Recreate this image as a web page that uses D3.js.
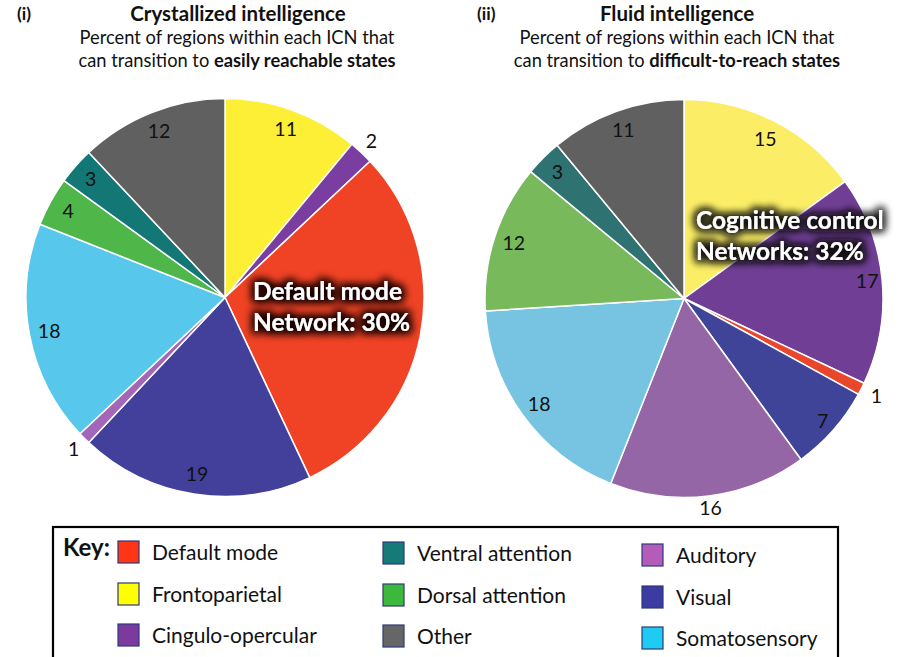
<!DOCTYPE html>
<html><head><meta charset="utf-8">
<script src="https://cdn.jsdelivr.net/npm/d3@7"></script>
<style>body{margin:0;background:#fff}svg{display:block}</style>
</head><body>
<svg id="chart" width="900" height="657"></svg>
<script>
// ---------- data ----------
const categories = ["Frontoparietal","Cingulo-opercular","Default mode","Visual","Auditory","Somatosensory","Dorsal attention","Ventral attention","Other"];
const crystallizedValues = [11,2,30,19,1,18,4,3,12];
const fluidValues = [15,17,1,7,16,18,12,3,11];
const legendColumns = [
  ["Default mode","Frontoparietal","Cingulo-opercular"],
  ["Ventral attention","Dorsal attention","Other"],
  ["Auditory","Visual","Somatosensory"]
];
const panelTags = ["(i)","(ii)"];
const panelTitles = ["Crystallized intelligence","Fluid intelligence"];
const subtitleLine1 = "Percent of regions within each ICN that";
const subtitlePrefix = "can transition to ";
const subtitleBold = ["easily reachable states","difficult-to-reach states"];
const calloutLines = [["Default mode","Network: 30%"],["Cognitive control","Networks: 32%"]];

// ---------- styles ----------
const crystallizedColors = ["#fdef35","#7a3ea0","#f04224","#42409a","#a466b9","#57c8eb","#4fb64a","#137775","#606060"];
const fluidColors = ["#fbee66","#703f95","#e8472b","#3f4499","#9566a6","#76c4e2","#78b95b","#2f7272","#606060"];
const legendColors = {"Default mode":"#ff3515","Frontoparietal":"#ffff00","Cingulo-opercular":"#7d3a9e",
  "Ventral attention":"#167a78","Dorsal attention":"#3cb93c","Other":"#666666",
  "Auditory":"#b55cba","Visual":"#3b3ba2","Somatosensory":"#1ecbf2"};
const FONT = "Lato, 'Open Sans', sans-serif";

const svg = d3.select("#chart");
const defs = svg.append("defs");
[["glowL","#1a0000",0.9],["glowR","#111",0.85]].forEach(([id,col,op])=>{
  const f = defs.append("filter").attr("id",id).attr("x","-20%").attr("y","-50%").attr("width","140%").attr("height","200%");
  f.append("feMorphology").attr("in","SourceAlpha").attr("operator","dilate").attr("radius",2).attr("result","d");
  f.append("feGaussianBlur").attr("in","d").attr("stdDeviation",4).attr("result","b");
  f.append("feFlood").attr("flood-color",col).attr("flood-opacity",op);
  f.append("feComposite").attr("in2","b").attr("operator","in").attr("result","s");
  const m = f.append("feMerge");
  m.append("feMergeNode").attr("in","s");
  m.append("feMergeNode").attr("in","s");
  m.append("feMergeNode").attr("in","SourceGraphic");
});

const R = 199, labelR = 179, outsideR = 214;
const panels = [
  {cx:225, cy:297.5, values:crystallizedValues, colors:crystallizedColors,
   hide:["Default mode"], labelRadius:{"Cingulo-opercular":outsideR,"Auditory":outsideR},
   titleX:238, tagX:17, subX:237, callout:{x:253,y:300,gap:31,filter:"url(#glowL)"}},
  {cx:684, cy:298.5, values:fluidValues, colors:fluidColors,
   hide:[], labelRadius:{"Default mode":216,"Auditory":211,"Cingulo-opercular":184,"Visual":185},
   titleX:677, tagX:477, subX:677, callout:{x:696,y:229,gap:31,filter:"url(#glowR)"}}
];

const pie = d3.pie().sort(null).value(d=>d.v);
const arc = d3.arc().innerRadius(0).outerRadius(R);

panels.forEach((p,i)=>{
  const data = categories.map((c,k)=>({c, v:p.values[k], color:p.colors[k]}));
  const g = svg.append("g").attr("transform",`translate(${p.cx},${p.cy})`);
  const arcs = pie(data);
  g.selectAll("path").data(arcs).join("path")
    .attr("d",arc).attr("fill",d=>d.data.color)
    .attr("stroke","#fff").attr("stroke-width",1.5).attr("stroke-linejoin","round");
  g.selectAll("text.lab").data(arcs.filter(d=>!p.hide.includes(d.data.c))).join("text")
    .attr("class","lab")
    .attr("transform",d=>{
      const r = p.labelRadius[d.data.c] || labelR;
      const a = (d.startAngle+d.endAngle)/2;
      return `translate(${r*Math.sin(a)},${-r*Math.cos(a)})`;
    })
    .attr("text-anchor","middle").attr("dy","0.35em")
    .attr("font-family",FONT).attr("font-size",19.5).attr("fill","#111")
    .text(d=>d.data.v);

  // callout
  const co = svg.append("g").attr("filter",p.callout.filter);
  calloutLines[i].forEach((t,k)=>{
    co.append("text").attr("x",p.callout.x).attr("y",p.callout.y+k*p.callout.gap)
      .attr("font-family",FONT).attr("font-weight","bold").attr("font-size",24.5)
      .attr("fill","#fff").text(t);
  });

  // titles
  svg.append("text").attr("x",p.tagX).attr("y",20).attr("font-family",FONT)
    .attr("font-weight","bold").attr("font-size",17.5).attr("fill","#111").text(panelTags[i]);
  svg.append("text").attr("x",p.titleX).attr("y",21).attr("text-anchor","middle").attr("font-family",FONT)
    .attr("font-weight","bold").attr("font-size",20.5).attr("fill","#111").text(panelTitles[i]);
  svg.append("text").attr("x",p.subX).attr("y",44).attr("text-anchor","middle").attr("font-family",FONT)
    .attr("font-size",18.3).attr("fill","#111").text(subtitleLine1);
  const s2 = svg.append("text").attr("x",p.subX).attr("y",67).attr("text-anchor","middle").attr("font-family",FONT)
    .attr("font-size",18.3).attr("fill","#111");
  s2.append("tspan").text(subtitlePrefix);
  s2.append("tspan").attr("font-weight","bold").text(subtitleBold[i]);
});

// legend
svg.append("rect").attr("x",53).attr("y",527).attr("width",785).attr("height",150)
  .attr("fill","none").attr("stroke","#000").attr("stroke-width",2.2);
svg.append("text").attr("x",63).attr("y",556).attr("font-family",FONT).attr("font-weight","bold")
  .attr("font-size",24).attr("fill","#111").text("Key:");
const colX = [118,383,642], colDY=[0,1,3], rowY=[541,583,624];
legendColumns.forEach((col,ci)=>{
  col.forEach((name,ri)=>{
    const y = rowY[ri]+colDY[ci];
    svg.append("rect").attr("x",colX[ci]).attr("y",y).attr("width",21).attr("height",22)
      .attr("fill",legendColors[name]).attr("stroke","#2e3a7a").attr("stroke-width",1.2);
    svg.append("text").attr("x",colX[ci]+34).attr("y",y+11).attr("dy","0.36em")
      .attr("font-family",FONT).attr("font-size",21).attr("fill","#111").text(name);
  });
});
</script>
</body></html>
